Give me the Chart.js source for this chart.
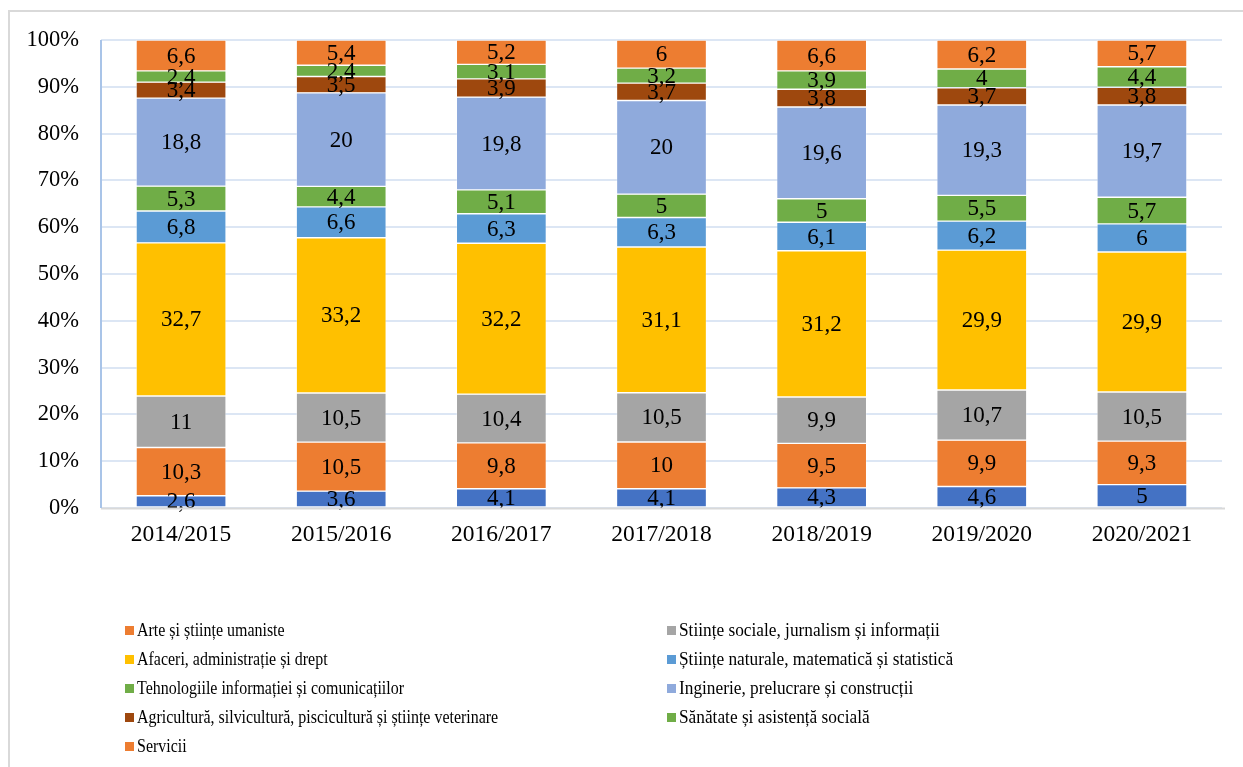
<!DOCTYPE html>
<html>
<head>
<meta charset="utf-8">
<script src="https://cdn.jsdelivr.net/npm/chart.js@4"></script>
<style>
  html, body { margin: 0; padding: 0; background: #fff; }
  #wrap { position: relative; width: 1243px; height: 767px; overflow: hidden; }
  #frame { position: absolute; left: 8px; top: 10px; width: 1300px; height: 800px; border: 2px solid #D9D9D9; box-sizing: border-box; }
  canvas { position: absolute; left: 0; top: 0; }
  #legend { position: absolute; left: 0; top: 0; font-family: "Liberation Serif", "Times New Roman", serif; font-size: 19px; color: #000; }
  .li { position: absolute; white-space: nowrap; line-height: 20px; }
  .sw { position: absolute; left: 0; top: 6px; width: 9px; height: 9px; }
  .tx { position: absolute; left: 12px; top: 0; transform-origin: 0 50%; }
</style>
</head>
<body>
<div id="wrap">
  <div id="frame"></div>
  <canvas id="c" width="1243" height="767"></canvas>
  <div id="legend"></div>
</div>
<script>
const categories = ["2014/2015","2015/2016","2016/2017","2017/2018","2018/2019","2019/2020","2020/2021"];
const seriesNames = [
  "Educație",
  "Arte și științe umaniste",
  "Stiințe sociale, jurnalism și informații",
  "Afaceri, administrație și drept",
  "Științe naturale, matematică și statistică",
  "Tehnologiile informației și comunicațiilor",
  "Inginerie, prelucrare și construcții",
  "Agricultură, silvicultură, piscicultură și științe veterinare",
  "Sănătate și asistență socială",
  "Servicii"
];
const educatie       = [2.6, 3.6, 4.1, 4.1, 4.3, 4.6, 5];
const arte           = [10.3, 10.5, 9.8, 10, 9.5, 9.9, 9.3];
const stiinteSociale = [11, 10.5, 10.4, 10.5, 9.9, 10.7, 10.5];
const afaceri        = [32.7, 33.2, 32.2, 31.1, 31.2, 29.9, 29.9];
const stiinteNat     = [6.8, 6.6, 6.3, 6.3, 6.1, 6.2, 6];
const tehnologii     = [5.3, 4.4, 5.1, 5, 5, 5.5, 5.7];
const inginerie      = [18.8, 20, 19.8, 20, 19.6, 19.3, 19.7];
const agricultura    = [3.4, 3.5, 3.9, 3.7, 3.8, 3.7, 3.8];
const sanatate       = [2.4, 2.4, 3.1, 3.2, 3.9, 4, 4.4];
const servicii       = [6.6, 5.4, 5.2, 6, 6.6, 6.2, 5.7];
const yTicks = [0,10,20,30,40,50,60,70,80,90,100];

const seriesValues = [educatie, arte, stiinteSociale, afaceri, stiinteNat, tehnologii, inginerie, agricultura, sanatate, servicii];
const colors = ["#4472C4","#ED7D31","#A5A5A5","#FFC000","#5B9BD5","#70AD47","#8FAADC","#9E480E","#70AD47","#ED7D31"];
const inLegend = [false,true,true,true,true,true,true,true,true,true];

const totals = categories.map((_, i) => seriesValues.reduce((s, arr) => s + arr[i], 0));

const datasets = seriesValues.map((arr, k) => ({
  label: seriesNames[k],
  data: arr.map((v, i) => v / totals[i] * 100),
  raw: arr,
  backgroundColor: colors[k],
  borderColor: "rgba(255,255,255,0.55)",
  borderWidth: 0.7,
  borderSkipped: false,
  categoryPercentage: 1,
  barPercentage: 0.5625
}));

const FONT = "'Liberation Serif', 'Times New Roman', serif";

const labelPlugin = {
  id: 'segLabels',
  afterDatasetsDraw(chart) {
    const ctx = chart.ctx;
    ctx.save();
    ctx.font = "23px " + FONT;
    ctx.fillStyle = "#000";
    ctx.textAlign = "center";
    ctx.textBaseline = "middle";
    chart.data.datasets.forEach((ds, di) => {
      const meta = chart.getDatasetMeta(di);
      meta.data.forEach((el, i) => {
        const p = el.getCenterPoint();
        const txt = String(ds.raw[i]).replace('.', ',');
        ctx.fillText(txt, p.x, p.y + 1);
      });
    });
    ctx.restore();
  }
};

const axisLinePlugin = {
  id: 'axisLines',
  afterDraw(chart) {
    const ctx = chart.ctx, a = chart.chartArea;
    ctx.save();
    ctx.lineWidth = 2;
    ctx.strokeStyle = "#D9D9D9";
    ctx.beginPath(); ctx.moveTo(a.left, a.bottom + 0.5); ctx.lineTo(a.right + 3, a.bottom + 0.5); ctx.stroke();
    ctx.strokeStyle = "#A9C4E8";
    ctx.beginPath(); ctx.moveTo(a.left, a.top); ctx.lineTo(a.left, a.bottom); ctx.stroke();
    ctx.restore();
  }
};

new Chart(document.getElementById('c'), {
  type: 'bar',
  data: { labels: categories, datasets },
  options: {
    responsive: false,
    animation: false,
    layout: { padding: { left: 8, top: 40, right: 21, bottom: 209 } },
    plugins: {
      legend: { display: false },
      tooltip: { enabled: false }
    },
    scales: {
      x: {
        stacked: true,
        grid: { display: false, drawTicks: false },
        border: { display: false },
        ticks: { color: "#000", font: { family: FONT, size: 23.5 }, padding: 13, maxRotation: 0 },
        afterFit(s) { s.height = 50; }
      },
      y: {
        stacked: true,
        min: 0, max: 100,
        afterBuildTicks(s) { s.ticks = yTicks.map(v => ({ value: v })); },
        grid: { color: "#DCE6F4", lineWidth: 2, drawTicks: false },
        border: { display: false },
        ticks: { color: "#000", font: { family: FONT, size: 22.5 }, padding: 22, callback: v => v + "%" },
        afterFit(s) { s.width = 93; }
      }
    }
  },
  plugins: [labelPlugin, axisLinePlugin]
});

// HTML legend, two columns
const legendEl = document.getElementById('legend');
const legendItems = seriesNames.map((n, k) => ({ n, c: colors[k], show: inLegend[k] })).filter(o => o.show);
legendItems.forEach((o, idx) => {
  const col = idx % 2, row = Math.floor(idx / 2);
  const d = document.createElement('div');
  d.className = 'li';
  d.style.left = (col === 0 ? 125 : 667) + 'px';
  d.style.top = (620 + row * 29) + 'px';
  d.innerHTML = '<span class="sw" style="background:' + o.c + '"></span><span class="tx" style="transform:scaleX(' + (col === 0 ? 0.84 : 0.91) + ')">' + o.n + '</span>';
  legendEl.appendChild(d);
});
</script>
</body>
</html>
